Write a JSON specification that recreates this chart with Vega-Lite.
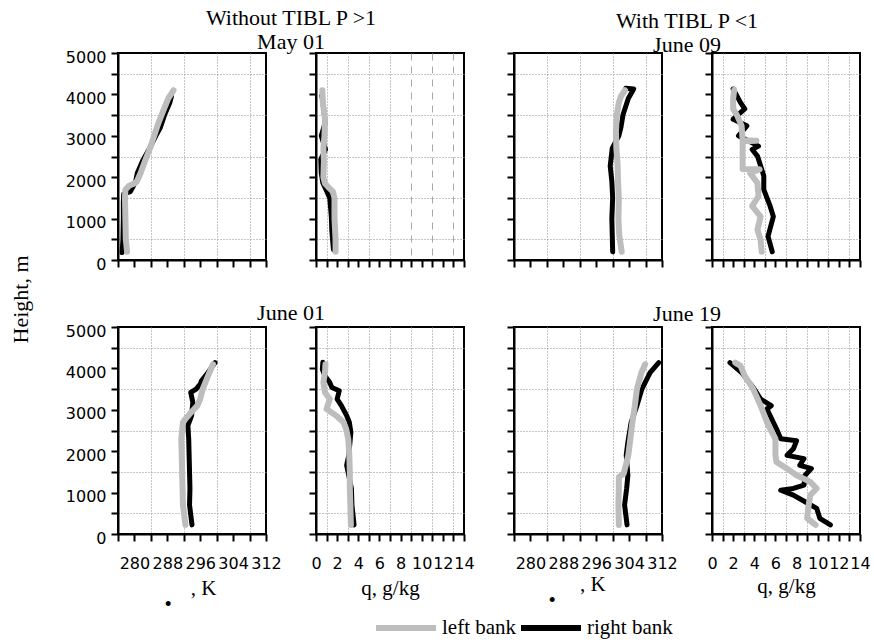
{
"$schema":"https://vega.github.io/schema/vega-lite/v6.json",
"background":"white",
"padding":{"left":8,"top":6,"right":5,"bottom":5},
"datasets":{"prof":[
{"date":"May 01","var":"theta","bank":"left bank","h":200,"val":278.2},
{"date":"May 01","var":"theta","bank":"left bank","h":500,"val":277.9},
{"date":"May 01","var":"theta","bank":"left bank","h":1000,"val":277.8},
{"date":"May 01","var":"theta","bank":"left bank","h":1500,"val":277.7},
{"date":"May 01","var":"theta","bank":"left bank","h":1700,"val":277.8},
{"date":"May 01","var":"theta","bank":"left bank","h":1800,"val":278.8},
{"date":"May 01","var":"theta","bank":"left bank","h":1850,"val":280.0},
{"date":"May 01","var":"theta","bank":"left bank","h":1900,"val":280.6},
{"date":"May 01","var":"theta","bank":"left bank","h":2100,"val":281.5},
{"date":"May 01","var":"theta","bank":"left bank","h":2400,"val":282.6},
{"date":"May 01","var":"theta","bank":"left bank","h":2700,"val":283.8},
{"date":"May 01","var":"theta","bank":"left bank","h":3000,"val":284.8},
{"date":"May 01","var":"theta","bank":"left bank","h":3300,"val":285.8},
{"date":"May 01","var":"theta","bank":"left bank","h":3600,"val":287.0},
{"date":"May 01","var":"theta","bank":"left bank","h":3900,"val":288.2},
{"date":"May 01","var":"theta","bank":"left bank","h":4100,"val":289.5},
{"date":"May 01","var":"theta","bank":"right bank","h":180,"val":277.0},
{"date":"May 01","var":"theta","bank":"right bank","h":500,"val":277.2},
{"date":"May 01","var":"theta","bank":"right bank","h":1000,"val":277.3},
{"date":"May 01","var":"theta","bank":"right bank","h":1400,"val":277.3},
{"date":"May 01","var":"theta","bank":"right bank","h":1600,"val":277.4},
{"date":"May 01","var":"theta","bank":"right bank","h":1650,"val":279.0},
{"date":"May 01","var":"theta","bank":"right bank","h":1800,"val":279.8},
{"date":"May 01","var":"theta","bank":"right bank","h":1900,"val":280.3},
{"date":"May 01","var":"theta","bank":"right bank","h":2100,"val":280.7},
{"date":"May 01","var":"theta","bank":"right bank","h":2400,"val":282.0},
{"date":"May 01","var":"theta","bank":"right bank","h":2700,"val":283.7},
{"date":"May 01","var":"theta","bank":"right bank","h":3000,"val":285.2},
{"date":"May 01","var":"theta","bank":"right bank","h":3200,"val":286.3},
{"date":"May 01","var":"theta","bank":"right bank","h":3500,"val":287.3},
{"date":"May 01","var":"theta","bank":"right bank","h":3800,"val":288.6},
{"date":"May 01","var":"theta","bank":"right bank","h":3950,"val":289.0},
{"date":"May 01","var":"q","bank":"left bank","h":200,"val":1.85},
{"date":"May 01","var":"q","bank":"left bank","h":500,"val":1.85},
{"date":"May 01","var":"q","bank":"left bank","h":1000,"val":1.75},
{"date":"May 01","var":"q","bank":"left bank","h":1500,"val":1.75},
{"date":"May 01","var":"q","bank":"left bank","h":1650,"val":1.6},
{"date":"May 01","var":"q","bank":"left bank","h":1750,"val":1.2},
{"date":"May 01","var":"q","bank":"left bank","h":1850,"val":0.85},
{"date":"May 01","var":"q","bank":"left bank","h":2000,"val":0.7},
{"date":"May 01","var":"q","bank":"left bank","h":2400,"val":0.75},
{"date":"May 01","var":"q","bank":"left bank","h":2700,"val":0.7},
{"date":"May 01","var":"q","bank":"left bank","h":3000,"val":0.8},
{"date":"May 01","var":"q","bank":"left bank","h":3400,"val":0.85},
{"date":"May 01","var":"q","bank":"left bank","h":3800,"val":0.65},
{"date":"May 01","var":"q","bank":"left bank","h":4100,"val":0.6},
{"date":"May 01","var":"q","bank":"right bank","h":250,"val":1.65},
{"date":"May 01","var":"q","bank":"right bank","h":700,"val":1.5},
{"date":"May 01","var":"q","bank":"right bank","h":1050,"val":1.45},
{"date":"May 01","var":"q","bank":"right bank","h":1500,"val":1.3},
{"date":"May 01","var":"q","bank":"right bank","h":1700,"val":0.95},
{"date":"May 01","var":"q","bank":"right bank","h":1860,"val":0.65},
{"date":"May 01","var":"q","bank":"right bank","h":2100,"val":0.5},
{"date":"May 01","var":"q","bank":"right bank","h":2430,"val":0.45},
{"date":"May 01","var":"q","bank":"right bank","h":2670,"val":0.9},
{"date":"May 01","var":"q","bank":"right bank","h":3000,"val":0.5},
{"date":"May 01","var":"q","bank":"right bank","h":3300,"val":0.85},
{"date":"May 01","var":"q","bank":"right bank","h":3500,"val":0.8},
{"date":"May 01","var":"q","bank":"right bank","h":3900,"val":0.6},
{"date":"May 01","var":"q","bank":"right bank","h":3970,"val":0.55},
{"date":"June 09","var":"theta","bank":"left bank","h":200,"val":302.2},
{"date":"June 09","var":"theta","bank":"left bank","h":600,"val":301.6},
{"date":"June 09","var":"theta","bank":"left bank","h":1000,"val":301.4},
{"date":"June 09","var":"theta","bank":"left bank","h":1500,"val":301.5},
{"date":"June 09","var":"theta","bank":"left bank","h":1900,"val":301.3},
{"date":"June 09","var":"theta","bank":"left bank","h":2300,"val":301.2},
{"date":"June 09","var":"theta","bank":"left bank","h":2700,"val":300.9},
{"date":"June 09","var":"theta","bank":"left bank","h":3100,"val":300.8},
{"date":"June 09","var":"theta","bank":"left bank","h":3500,"val":301.0},
{"date":"June 09","var":"theta","bank":"left bank","h":3800,"val":301.5},
{"date":"June 09","var":"theta","bank":"left bank","h":3950,"val":302.0},
{"date":"June 09","var":"theta","bank":"left bank","h":4100,"val":303.0},
{"date":"June 09","var":"theta","bank":"right bank","h":200,"val":300.0},
{"date":"June 09","var":"theta","bank":"right bank","h":600,"val":299.9},
{"date":"June 09","var":"theta","bank":"right bank","h":1000,"val":299.8},
{"date":"June 09","var":"theta","bank":"right bank","h":1500,"val":300.0},
{"date":"June 09","var":"theta","bank":"right bank","h":1900,"val":299.8},
{"date":"June 09","var":"theta","bank":"right bank","h":2270,"val":299.4},
{"date":"June 09","var":"theta","bank":"right bank","h":2700,"val":299.9},
{"date":"June 09","var":"theta","bank":"right bank","h":3000,"val":301.5},
{"date":"June 09","var":"theta","bank":"right bank","h":3200,"val":302.0},
{"date":"June 09","var":"theta","bank":"right bank","h":3500,"val":302.5},
{"date":"June 09","var":"theta","bank":"right bank","h":3900,"val":303.8},
{"date":"June 09","var":"theta","bank":"right bank","h":4130,"val":305.1},
{"date":"June 09","var":"theta","bank":"right bank","h":4150,"val":303.2},
{"date":"June 09","var":"q","bank":"left bank","h":200,"val":4.7},
{"date":"June 09","var":"q","bank":"left bank","h":490,"val":4.6},
{"date":"June 09","var":"q","bank":"left bank","h":730,"val":4.3},
{"date":"June 09","var":"q","bank":"left bank","h":1050,"val":4.6},
{"date":"June 09","var":"q","bank":"left bank","h":1300,"val":3.8},
{"date":"June 09","var":"q","bank":"left bank","h":1540,"val":4.4},
{"date":"June 09","var":"q","bank":"left bank","h":1860,"val":4.3},
{"date":"June 09","var":"q","bank":"left bank","h":2100,"val":3.6},
{"date":"June 09","var":"q","bank":"left bank","h":2190,"val":4.5},
{"date":"June 09","var":"q","bank":"left bank","h":2200,"val":2.9},
{"date":"June 09","var":"q","bank":"left bank","h":2700,"val":2.9},
{"date":"June 09","var":"q","bank":"left bank","h":2870,"val":2.9},
{"date":"June 09","var":"q","bank":"left bank","h":2880,"val":4.2},
{"date":"June 09","var":"q","bank":"left bank","h":2890,"val":2.9},
{"date":"June 09","var":"q","bank":"left bank","h":3240,"val":2.8},
{"date":"June 09","var":"q","bank":"left bank","h":3480,"val":2.4},
{"date":"June 09","var":"q","bank":"left bank","h":3650,"val":2.0},
{"date":"June 09","var":"q","bank":"left bank","h":3890,"val":2.0},
{"date":"June 09","var":"q","bank":"left bank","h":4110,"val":2.1},
{"date":"June 09","var":"q","bank":"right bank","h":200,"val":5.7},
{"date":"June 09","var":"q","bank":"right bank","h":570,"val":5.3},
{"date":"June 09","var":"q","bank":"right bank","h":1050,"val":5.8},
{"date":"June 09","var":"q","bank":"right bank","h":1300,"val":5.5},
{"date":"June 09","var":"q","bank":"right bank","h":1700,"val":4.9},
{"date":"June 09","var":"q","bank":"right bank","h":2030,"val":4.9},
{"date":"June 09","var":"q","bank":"right bank","h":2270,"val":4.6},
{"date":"June 09","var":"q","bank":"right bank","h":2510,"val":4.3},
{"date":"June 09","var":"q","bank":"right bank","h":2670,"val":3.8},
{"date":"June 09","var":"q","bank":"right bank","h":2750,"val":4.4},
{"date":"June 09","var":"q","bank":"right bank","h":3000,"val":2.5},
{"date":"June 09","var":"q","bank":"right bank","h":3240,"val":3.3},
{"date":"June 09","var":"q","bank":"right bank","h":3400,"val":2.0},
{"date":"June 09","var":"q","bank":"right bank","h":3650,"val":3.1},
{"date":"June 09","var":"q","bank":"right bank","h":3800,"val":2.7},
{"date":"June 09","var":"q","bank":"right bank","h":4130,"val":2.0},
{"date":"June 01","var":"theta","bank":"left bank","h":220,"val":292.4},
{"date":"June 01","var":"theta","bank":"left bank","h":700,"val":291.8},
{"date":"June 01","var":"theta","bank":"left bank","h":1100,"val":291.7},
{"date":"June 01","var":"theta","bank":"left bank","h":1500,"val":291.6},
{"date":"June 01","var":"theta","bank":"left bank","h":1900,"val":291.5},
{"date":"June 01","var":"theta","bank":"left bank","h":2300,"val":291.4},
{"date":"June 01","var":"theta","bank":"left bank","h":2700,"val":291.8},
{"date":"June 01","var":"theta","bank":"left bank","h":2780,"val":292.4},
{"date":"June 01","var":"theta","bank":"left bank","h":2940,"val":293.8},
{"date":"June 01","var":"theta","bank":"left bank","h":3100,"val":295.3},
{"date":"June 01","var":"theta","bank":"left bank","h":3260,"val":296.0},
{"date":"June 01","var":"theta","bank":"left bank","h":3500,"val":296.6},
{"date":"June 01","var":"theta","bank":"left bank","h":3820,"val":297.9},
{"date":"June 01","var":"theta","bank":"left bank","h":4100,"val":299.1},
{"date":"June 01","var":"theta","bank":"right bank","h":220,"val":294.0},
{"date":"June 01","var":"theta","bank":"right bank","h":700,"val":293.4},
{"date":"June 01","var":"theta","bank":"right bank","h":1100,"val":293.5},
{"date":"June 01","var":"theta","bank":"right bank","h":1500,"val":293.4},
{"date":"June 01","var":"theta","bank":"right bank","h":1900,"val":293.3},
{"date":"June 01","var":"theta","bank":"right bank","h":2300,"val":293.2},
{"date":"June 01","var":"theta","bank":"right bank","h":2620,"val":293.0},
{"date":"June 01","var":"theta","bank":"right bank","h":2860,"val":293.9},
{"date":"June 01","var":"theta","bank":"right bank","h":3180,"val":294.2},
{"date":"June 01","var":"theta","bank":"right bank","h":3420,"val":293.7},
{"date":"June 01","var":"theta","bank":"right bank","h":3500,"val":295.0},
{"date":"June 01","var":"theta","bank":"right bank","h":3620,"val":296.0},
{"date":"June 01","var":"theta","bank":"right bank","h":3700,"val":296.3},
{"date":"June 01","var":"theta","bank":"right bank","h":3900,"val":297.9},
{"date":"June 01","var":"theta","bank":"right bank","h":4140,"val":299.6},
{"date":"June 01","var":"q","bank":"left bank","h":220,"val":3.3},
{"date":"June 01","var":"q","bank":"left bank","h":700,"val":3.25},
{"date":"June 01","var":"q","bank":"left bank","h":1100,"val":3.2},
{"date":"June 01","var":"q","bank":"left bank","h":1500,"val":3.2},
{"date":"June 01","var":"q","bank":"left bank","h":1900,"val":3.15},
{"date":"June 01","var":"q","bank":"left bank","h":2300,"val":3.05},
{"date":"June 01","var":"q","bank":"left bank","h":2540,"val":2.85},
{"date":"June 01","var":"q","bank":"left bank","h":2700,"val":2.6},
{"date":"June 01","var":"q","bank":"left bank","h":2860,"val":1.9},
{"date":"June 01","var":"q","bank":"left bank","h":3020,"val":1.0},
{"date":"June 01","var":"q","bank":"left bank","h":3260,"val":1.3},
{"date":"June 01","var":"q","bank":"left bank","h":3420,"val":0.85},
{"date":"June 01","var":"q","bank":"left bank","h":3660,"val":0.7},
{"date":"June 01","var":"q","bank":"left bank","h":3900,"val":0.85},
{"date":"June 01","var":"q","bank":"left bank","h":4100,"val":0.9},
{"date":"June 01","var":"q","bank":"right bank","h":220,"val":3.6},
{"date":"June 01","var":"q","bank":"right bank","h":700,"val":3.4},
{"date":"June 01","var":"q","bank":"right bank","h":1100,"val":3.35},
{"date":"June 01","var":"q","bank":"right bank","h":1660,"val":2.9},
{"date":"June 01","var":"q","bank":"right bank","h":1900,"val":3.1},
{"date":"June 01","var":"q","bank":"right bank","h":2460,"val":3.3},
{"date":"June 01","var":"q","bank":"right bank","h":2700,"val":3.15},
{"date":"June 01","var":"q","bank":"right bank","h":2860,"val":2.9},
{"date":"June 01","var":"q","bank":"right bank","h":3100,"val":2.4},
{"date":"June 01","var":"q","bank":"right bank","h":3260,"val":2.0},
{"date":"June 01","var":"q","bank":"right bank","h":3460,"val":2.2},
{"date":"June 01","var":"q","bank":"right bank","h":3540,"val":1.5},
{"date":"June 01","var":"q","bank":"right bank","h":3660,"val":1.3},
{"date":"June 01","var":"q","bank":"right bank","h":3820,"val":0.85},
{"date":"June 01","var":"q","bank":"right bank","h":3980,"val":0.6},
{"date":"June 01","var":"q","bank":"right bank","h":4150,"val":0.65},
{"date":"June 19","var":"theta","bank":"left bank","h":220,"val":301.5},
{"date":"June 19","var":"theta","bank":"left bank","h":700,"val":301.4},
{"date":"June 19","var":"theta","bank":"left bank","h":1100,"val":301.5},
{"date":"June 19","var":"theta","bank":"left bank","h":1380,"val":301.5},
{"date":"June 19","var":"theta","bank":"left bank","h":1460,"val":302.7},
{"date":"June 19","var":"theta","bank":"left bank","h":1900,"val":303.8},
{"date":"June 19","var":"theta","bank":"left bank","h":2300,"val":304.3},
{"date":"June 19","var":"theta","bank":"left bank","h":2700,"val":304.8},
{"date":"June 19","var":"theta","bank":"left bank","h":3100,"val":305.4},
{"date":"June 19","var":"theta","bank":"left bank","h":3500,"val":305.9},
{"date":"June 19","var":"theta","bank":"left bank","h":3900,"val":307.0},
{"date":"June 19","var":"theta","bank":"left bank","h":4100,"val":307.9},
{"date":"June 19","var":"theta","bank":"right bank","h":220,"val":303.5},
{"date":"June 19","var":"theta","bank":"right bank","h":700,"val":302.9},
{"date":"June 19","var":"theta","bank":"right bank","h":1100,"val":303.4},
{"date":"June 19","var":"theta","bank":"right bank","h":1420,"val":303.7},
{"date":"June 19","var":"theta","bank":"right bank","h":1900,"val":303.3},
{"date":"June 19","var":"theta","bank":"right bank","h":2220,"val":303.7},
{"date":"June 19","var":"theta","bank":"right bank","h":2700,"val":304.5},
{"date":"June 19","var":"theta","bank":"right bank","h":3100,"val":305.9},
{"date":"June 19","var":"theta","bank":"right bank","h":3500,"val":307.1},
{"date":"June 19","var":"theta","bank":"right bank","h":3900,"val":309.1},
{"date":"June 19","var":"theta","bank":"right bank","h":4140,"val":311.2},
{"date":"June 19","var":"q","bank":"left bank","h":220,"val":9.8},
{"date":"June 19","var":"q","bank":"left bank","h":380,"val":9.0},
{"date":"June 19","var":"q","bank":"left bank","h":620,"val":9.1},
{"date":"June 19","var":"q","bank":"left bank","h":940,"val":9.3},
{"date":"June 19","var":"q","bank":"left bank","h":1100,"val":9.9},
{"date":"June 19","var":"q","bank":"left bank","h":1260,"val":9.3},
{"date":"June 19","var":"q","bank":"left bank","h":1420,"val":8.0},
{"date":"June 19","var":"q","bank":"left bank","h":1580,"val":7.1},
{"date":"June 19","var":"q","bank":"left bank","h":1740,"val":6.1},
{"date":"June 19","var":"q","bank":"left bank","h":1900,"val":6.0},
{"date":"June 19","var":"q","bank":"left bank","h":2300,"val":6.0},
{"date":"June 19","var":"q","bank":"left bank","h":2540,"val":5.5},
{"date":"June 19","var":"q","bank":"left bank","h":2700,"val":5.2},
{"date":"June 19","var":"q","bank":"left bank","h":3100,"val":4.6},
{"date":"June 19","var":"q","bank":"left bank","h":3500,"val":3.9},
{"date":"June 19","var":"q","bank":"left bank","h":3820,"val":3.1},
{"date":"June 19","var":"q","bank":"left bank","h":4060,"val":2.7},
{"date":"June 19","var":"q","bank":"left bank","h":4140,"val":2.2},
{"date":"June 19","var":"q","bank":"right bank","h":220,"val":11.2},
{"date":"June 19","var":"q","bank":"right bank","h":380,"val":10.2},
{"date":"June 19","var":"q","bank":"right bank","h":620,"val":9.9},
{"date":"June 19","var":"q","bank":"right bank","h":780,"val":8.8},
{"date":"June 19","var":"q","bank":"right bank","h":940,"val":7.7},
{"date":"June 19","var":"q","bank":"right bank","h":1056,"val":6.5},
{"date":"June 19","var":"q","bank":"right bank","h":1100,"val":7.7},
{"date":"June 19","var":"q","bank":"right bank","h":1180,"val":8.7},
{"date":"June 19","var":"q","bank":"right bank","h":1420,"val":8.8},
{"date":"June 19","var":"q","bank":"right bank","h":1580,"val":9.4},
{"date":"June 19","var":"q","bank":"right bank","h":1660,"val":8.3},
{"date":"June 19","var":"q","bank":"right bank","h":1820,"val":8.7},
{"date":"June 19","var":"q","bank":"right bank","h":1900,"val":7.1},
{"date":"June 19","var":"q","bank":"right bank","h":2060,"val":7.7},
{"date":"June 19","var":"q","bank":"right bank","h":2250,"val":8.0},
{"date":"June 19","var":"q","bank":"right bank","h":2300,"val":6.5},
{"date":"June 19","var":"q","bank":"right bank","h":2540,"val":6.1},
{"date":"June 19","var":"q","bank":"right bank","h":2700,"val":5.8},
{"date":"June 19","var":"q","bank":"right bank","h":3020,"val":5.2},
{"date":"June 19","var":"q","bank":"right bank","h":3100,"val":5.6},
{"date":"June 19","var":"q","bank":"right bank","h":3260,"val":4.6},
{"date":"June 19","var":"q","bank":"right bank","h":3500,"val":4.0},
{"date":"June 19","var":"q","bank":"right bank","h":3900,"val":2.8},
{"date":"June 19","var":"q","bank":"right bank","h":4140,"val":1.7}
]},
"data":{"name":"prof"},
"bounds":"flush",
"columns":4,
"spacing":{"row":67,"column":50},
"concat":[
  {"width":148,"height":207,
   "title":{"text":"Without TIBL P >1","subtitle":"May 01","dx":99},
   "transform":[{"filter":"datum.date == 'May 01' && datum.var == 'theta'"}],
   "encoding":{
    "x":{"field":"val","type":"quantitative","scale":{"domain":[276,312],"nice":false,"zero":false},"axis":{"values":[276,280,284,288,292,296,300,304,308,312],"labels":false,"title":null,"gridOpacity":{"condition":{"test":"datum.value % 8 == 4","value":1},"value":0}}},
    "y":{"field":"h","type":"quantitative","scale":{"domain":[0,5000],"nice":false},"axis":{"values":[0,500,1000,1500,2000,2500,3000,3500,4000,4500,5000],"format":"d","labelExpr":"datum.value % 1000 == 0 ? datum.label : ''","labelOffset":4,"labelPadding":5,"title":"Height, m","titleX":-98,"titleY":246,"titleAngle":270,"titleAlign":"center","titleBaseline":"middle","titleFontSize":22,"gridOpacity":{"condition":{"test":"datum.value % 1000 == 500","value":1},"value":0}}},
    "color":{"field":"bank","type":"nominal","scale":{"domain":["left bank","right bank"],"range":["#bdbdbd","#000000"]},"legend":{"title":null}},
    "order":{"field":"h","type":"quantitative"}},
   "layer":[
    {"transform":[{"filter":"datum.bank == 'right bank'"}],"mark":{"type":"line","strokeWidth":5,"strokeCap":"round","strokeJoin":"round"}},
    {"transform":[{"filter":"datum.bank == 'left bank'"}],"mark":{"type":"line","strokeWidth":6,"strokeCap":"round","strokeJoin":"round"}}]},
  {"width":148,"height":207,
   "transform":[{"filter":"datum.date == 'May 01' && datum.var == 'q'"}],
   "encoding":{
    "x":{"field":"val","type":"quantitative","scale":{"domain":[0,14],"nice":false,"zero":false},"axis":{"values":[0,1,2,3,4,5,6,7,8,9,10,11,12,13,14],"labels":false,"title":null,"gridOpacity":{"condition":{"test":"datum.value % 2 == 1","value":1},"value":0},"gridDash":{"condition":{"test":"datum.value >= 9","value":[7,6]},"value":[1,2]},"gridColor":{"condition":{"test":"datum.value >= 9","value":"#a8a8a8"},"value":"#8c8c8c"}}},
    "y":{"field":"h","type":"quantitative","scale":{"domain":[0,5000],"nice":false},"axis":{"values":[0,500,1000,1500,2000,2500,3000,3500,4000,4500,5000],"labels":false,"title":null,"gridOpacity":{"condition":{"test":"datum.value % 1000 == 500","value":1},"value":0}}},
    "color":{"field":"bank","type":"nominal","scale":{"domain":["left bank","right bank"],"range":["#bdbdbd","#000000"]},"legend":{"title":null}},
    "order":{"field":"h","type":"quantitative"}},
   "layer":[
    {"transform":[{"filter":"datum.bank == 'right bank'"}],"mark":{"type":"line","strokeWidth":5,"strokeCap":"round","strokeJoin":"round"}},
    {"transform":[{"filter":"datum.bank == 'left bank'"}],"mark":{"type":"line","strokeWidth":6,"strokeCap":"round","strokeJoin":"round"}}]},
  {"width":148,"height":207,
   "title":{"text":"With TIBL P <1","subtitle":"June 09","dx":99},
   "transform":[{"filter":"datum.date == 'June 09' && datum.var == 'theta'"}],
   "encoding":{
    "x":{"field":"val","type":"quantitative","scale":{"domain":[276,312],"nice":false,"zero":false},"axis":{"values":[276,280,284,288,292,296,300,304,308,312],"labels":false,"title":null,"gridOpacity":{"condition":{"test":"datum.value % 8 == 4","value":1},"value":0}}},
    "y":{"field":"h","type":"quantitative","scale":{"domain":[0,5000],"nice":false},"axis":{"values":[0,500,1000,1500,2000,2500,3000,3500,4000,4500,5000],"labels":false,"title":null,"gridOpacity":{"condition":{"test":"datum.value % 1000 == 500","value":1},"value":0}}},
    "color":{"field":"bank","type":"nominal","scale":{"domain":["left bank","right bank"],"range":["#bdbdbd","#000000"]},"legend":{"title":null}},
    "order":{"field":"h","type":"quantitative"}},
   "layer":[
    {"transform":[{"filter":"datum.bank == 'right bank'"}],"mark":{"type":"line","strokeWidth":5,"strokeCap":"round","strokeJoin":"round"}},
    {"transform":[{"filter":"datum.bank == 'left bank'"}],"mark":{"type":"line","strokeWidth":6,"strokeCap":"round","strokeJoin":"round"}}]},
  {"width":148,"height":207,
   "transform":[{"filter":"datum.date == 'June 09' && datum.var == 'q'"}],
   "encoding":{
    "x":{"field":"val","type":"quantitative","scale":{"domain":[0,14],"nice":false,"zero":false},"axis":{"values":[0,1,2,3,4,5,6,7,8,9,10,11,12,13,14],"labels":false,"title":null,"gridOpacity":{"condition":{"test":"datum.value % 2 == 1","value":1},"value":0}}},
    "y":{"field":"h","type":"quantitative","scale":{"domain":[0,5000],"nice":false},"axis":{"values":[0,500,1000,1500,2000,2500,3000,3500,4000,4500,5000],"labels":false,"title":null,"gridOpacity":{"condition":{"test":"datum.value % 1000 == 500","value":1},"value":0}}},
    "color":{"field":"bank","type":"nominal","scale":{"domain":["left bank","right bank"],"range":["#bdbdbd","#000000"]},"legend":{"title":null}},
    "order":{"field":"h","type":"quantitative"}},
   "layer":[
    {"transform":[{"filter":"datum.bank == 'right bank'"}],"mark":{"type":"line","strokeWidth":5,"strokeCap":"round","strokeJoin":"round"}},
    {"transform":[{"filter":"datum.bank == 'left bank'"}],"mark":{"type":"line","strokeWidth":6,"strokeCap":"round","strokeJoin":"round"}}]},
  {"width":148,"height":207,
   "title":{"text":"June 01","dx":99,"offset":-2},
   "transform":[{"filter":"datum.date == 'June 01' && datum.var == 'theta'"}],
   "encoding":{
    "x":{"field":"val","type":"quantitative","scale":{"domain":[276,312],"nice":false,"zero":false},"axis":{"values":[276,280,284,288,292,296,300,304,308,312],"format":"d","labelExpr":"datum.value % 8 == 0 ? datum.label : ''","labelOverlap":false,"labelFlush":false,"labelPadding":14,"title":["\u200b\u00a0\u00a0\u00a0\u00a0\u00a0, K","\u2022"],"titleAlign":"left","titleX":46,"titleY":60,"titleBaseline":"alphabetic","titleLineHeight":16,"gridOpacity":{"condition":{"test":"datum.value % 8 == 4","value":1},"value":0}}},
    "y":{"field":"h","type":"quantitative","scale":{"domain":[0,5000],"nice":false},"axis":{"values":[0,500,1000,1500,2000,2500,3000,3500,4000,4500,5000],"format":"d","labelExpr":"datum.value % 1000 == 0 ? datum.label : ''","labelOffset":4,"labelPadding":5,"title":null,"gridOpacity":{"condition":{"test":"datum.value % 1000 == 500","value":1},"value":0}}},
    "color":{"field":"bank","type":"nominal","scale":{"domain":["left bank","right bank"],"range":["#bdbdbd","#000000"]},"legend":{"title":null}},
    "order":{"field":"h","type":"quantitative"}},
   "layer":[
    {"transform":[{"filter":"datum.bank == 'right bank'"}],"mark":{"type":"line","strokeWidth":5,"strokeCap":"round","strokeJoin":"round"}},
    {"transform":[{"filter":"datum.bank == 'left bank'"}],"mark":{"type":"line","strokeWidth":6,"strokeCap":"round","strokeJoin":"round"}}]},
  {"width":148,"height":207,
   "transform":[{"filter":"datum.date == 'June 01' && datum.var == 'q'"}],
   "encoding":{
    "x":{"field":"val","type":"quantitative","scale":{"domain":[0,14],"nice":false,"zero":false},"axis":{"values":[0,1,2,3,4,5,6,7,8,9,10,11,12,13,14],"format":"d","labelExpr":"datum.value % 2 == 0 ? datum.label : ''","labelOverlap":false,"labelFlush":false,"labelPadding":14,"title":"q, g/kg","titleY":60,"titleBaseline":"alphabetic","gridOpacity":{"condition":{"test":"datum.value % 2 == 1","value":1},"value":0}}},
    "y":{"field":"h","type":"quantitative","scale":{"domain":[0,5000],"nice":false},"axis":{"values":[0,500,1000,1500,2000,2500,3000,3500,4000,4500,5000],"labels":false,"title":null,"gridOpacity":{"condition":{"test":"datum.value % 1000 == 500","value":1},"value":0}}},
    "color":{"field":"bank","type":"nominal","scale":{"domain":["left bank","right bank"],"range":["#bdbdbd","#000000"]},"legend":{"title":null}},
    "order":{"field":"h","type":"quantitative"}},
   "layer":[
    {"transform":[{"filter":"datum.bank == 'right bank'"}],"mark":{"type":"line","strokeWidth":5,"strokeCap":"round","strokeJoin":"round"}},
    {"transform":[{"filter":"datum.bank == 'left bank'"}],"mark":{"type":"line","strokeWidth":6,"strokeCap":"round","strokeJoin":"round"}}]},
  {"width":148,"height":207,
   "title":{"text":"June 19","dx":99,"offset":0},
   "transform":[{"filter":"datum.date == 'June 19' && datum.var == 'theta'"}],
   "encoding":{
    "x":{"field":"val","type":"quantitative","scale":{"domain":[276,312],"nice":false,"zero":false},"axis":{"values":[276,280,284,288,292,296,300,304,308,312],"format":"d","labelExpr":"datum.value % 8 == 0 ? datum.label : ''","labelOverlap":false,"labelFlush":false,"labelPadding":14,"title":["\u200b\u00a0\u00a0\u00a0\u00a0\u00a0\u00a0, K","\u2022"],"titleAlign":"left","titleX":34,"titleY":56,"titleBaseline":"alphabetic","titleLineHeight":16,"gridOpacity":{"condition":{"test":"datum.value % 8 == 4","value":1},"value":0}}},
    "y":{"field":"h","type":"quantitative","scale":{"domain":[0,5000],"nice":false},"axis":{"values":[0,500,1000,1500,2000,2500,3000,3500,4000,4500,5000],"labels":false,"title":null,"gridOpacity":{"condition":{"test":"datum.value % 1000 == 500","value":1},"value":0}}},
    "color":{"field":"bank","type":"nominal","scale":{"domain":["left bank","right bank"],"range":["#bdbdbd","#000000"]},"legend":{"title":null}},
    "order":{"field":"h","type":"quantitative"}},
   "layer":[
    {"transform":[{"filter":"datum.bank == 'right bank'"}],"mark":{"type":"line","strokeWidth":5,"strokeCap":"round","strokeJoin":"round"}},
    {"transform":[{"filter":"datum.bank == 'left bank'"}],"mark":{"type":"line","strokeWidth":6,"strokeCap":"round","strokeJoin":"round"}}]},
  {"width":148,"height":207,
   "transform":[{"filter":"datum.date == 'June 19' && datum.var == 'q'"}],
   "encoding":{
    "x":{"field":"val","type":"quantitative","scale":{"domain":[0,14],"nice":false,"zero":false},"axis":{"values":[0,1,2,3,4,5,6,7,8,9,10,11,12,13,14],"format":"d","labelExpr":"datum.value % 2 == 0 ? datum.label : ''","labelOverlap":false,"labelFlush":false,"labelPadding":14,"title":"q, g/kg","titleY":58,"titleBaseline":"alphabetic","gridOpacity":{"condition":{"test":"datum.value % 2 == 1","value":1},"value":0}}},
    "y":{"field":"h","type":"quantitative","scale":{"domain":[0,5000],"nice":false},"axis":{"values":[0,500,1000,1500,2000,2500,3000,3500,4000,4500,5000],"labels":false,"title":null,"gridOpacity":{"condition":{"test":"datum.value % 1000 == 500","value":1},"value":0}}},
    "color":{"field":"bank","type":"nominal","scale":{"domain":["left bank","right bank"],"range":["#bdbdbd","#000000"]},"legend":{"title":null}},
    "order":{"field":"h","type":"quantitative"}},
   "layer":[
    {"transform":[{"filter":"datum.bank == 'right bank'"}],"mark":{"type":"line","strokeWidth":5,"strokeCap":"round","strokeJoin":"round"}},
    {"transform":[{"filter":"datum.bank == 'left bank'"}],"mark":{"type":"line","strokeWidth":6,"strokeCap":"round","strokeJoin":"round"}}]}
],
"config":{
 "view":{"stroke":"black","strokeWidth":2},
 "axis":{"grid":true,"domainColor":"black","domainWidth":2,"tickColor":"black","tickWidth":2,"tickSize":7,"labelFont":"DejaVu Sans","labelFontSize":16,"labelColor":"black","gridColor":"#8c8c8c","gridDash":[1,2],"gridWidth":1,"titleFont":"Liberation Serif","titleFontSize":21,"titleFontWeight":"normal","titleColor":"black"},
 "title":{"font":"Liberation Serif","fontSize":22,"fontWeight":"normal","color":"black","subtitleFont":"Liberation Serif","subtitleFontSize":22,"subtitleColor":"black","subtitlePadding":2,"offset":-5,"frame":"group","anchor":"middle"},
 "legend":{"orient":"none","legendX":255,"legendY":542,"direction":"horizontal","symbolType":"stroke","symbolSize":3600,"symbolStrokeWidth":6,"labelFont":"Liberation Serif","labelFontSize":21,"labelColor":"black","columnPadding":-8,"labelOffset":3}
}
}
